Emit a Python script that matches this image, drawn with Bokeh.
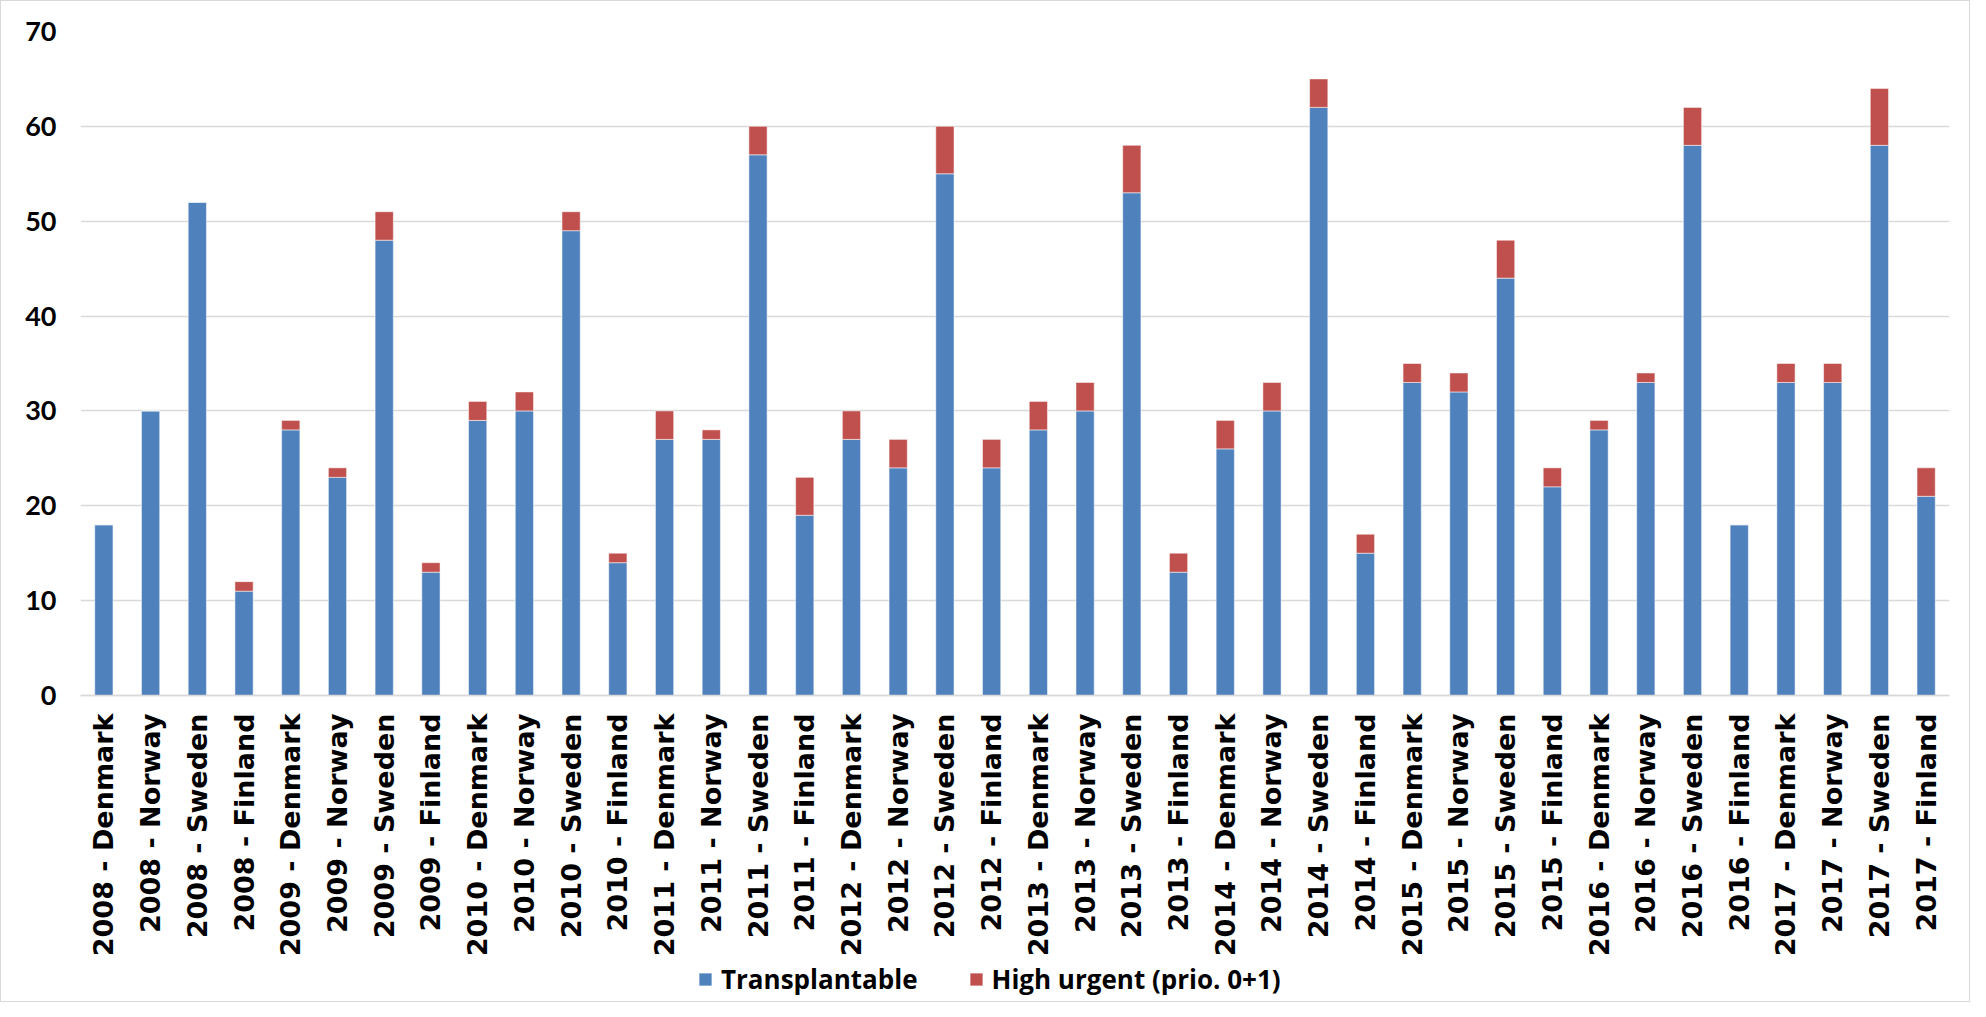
import math
from bokeh.plotting import figure
from bokeh.models import ColumnDataSource, Legend, LegendItem, FixedTicker, Range1d, FactorRange
from bokeh.embed import file_html
from bokeh.resources import INLINE

years = ["2008", "2009", "2010", "2011", "2012", "2013", "2014", "2015", "2016", "2017"]
countries = ["Denmark", "Norway", "Sweden", "Finland"]
categories = [f"{y} - {c}" for y in years for c in countries]

transplantable = [18, 30, 52, 11,
                  28, 23, 48, 13,
                  29, 30, 49, 14,
                  27, 27, 57, 19,
                  27, 24, 55, 24,
                  28, 30, 53, 13,
                  26, 30, 62, 15,
                  33, 32, 44, 22,
                  28, 33, 58, 18,
                  33, 33, 58, 21]
high_urgent = [0, 0, 0, 1,
               1, 1, 3, 1,
               2, 2, 2, 1,
               3, 1, 3, 4,
               3, 3, 5, 3,
               3, 3, 5, 2,
               3, 3, 3, 2,
               2, 2, 4, 2,
               1, 1, 4, 0,
               2, 2, 6, 3]
y_ticks = [0, 10, 20, 30, 40, 50, 60, 70]
series_names = ["Transplantable", "High urgent (prio. 0+1)"]
colors = ["#4F81BD", "#C0504D"]

# layout (screen px inside the figure): value axis 0..70 spans 664 px,
# the frame continues below 0 to hold the category labels and the legend
FRAME_H = 970
AXIS_H = 664
y_max = 70
y_min = -y_max * (FRAME_H - AXIS_H) / AXIS_H

source = ColumnDataSource(dict(cat=categories, tr=transplantable, hu=high_urgent))

p = figure(x_range=FactorRange(*categories, range_padding=0), y_range=Range1d(y_min, y_max),
           frame_width=1869, frame_height=FRAME_H, output_backend="svg", toolbar_location=None,
           min_border_left=79, min_border_right=20, min_border_top=30, min_border_bottom=0)

renderers = p.vbar_stack(["tr", "hu"], x="cat", width=0.39, color=colors, source=source,
                         line_color="white", line_width=1, line_alpha=0.5)

p.outline_line_color = None
p.styles = {"border": "1px solid #D9D9D9"}

p.xgrid.grid_line_color = None
p.ygrid.grid_line_color = "#D9D9D9"
p.ygrid.grid_line_width = 1.5
p.yaxis.ticker = FixedTicker(ticks=y_ticks)

p.yaxis.axis_line_color = None
p.yaxis.major_tick_line_color = None
p.yaxis.minor_tick_line_color = None
p.yaxis.major_tick_out = 0
p.yaxis.major_tick_in = 0
p.yaxis.minor_tick_out = 0
p.yaxis.major_label_text_font = "Lato"
p.yaxis.major_label_text_font_style = "bold"
p.yaxis.major_label_text_font_size = "27px"
p.yaxis.major_label_text_color = "black"
p.yaxis.major_label_standoff = 24

p.xaxis.fixed_location = 0
p.xaxis.axis_line_color = "#D9D9D9"
p.xaxis.axis_line_width = 1.5
p.xaxis.major_tick_line_color = None
p.xaxis.minor_tick_line_color = None
p.xaxis.major_tick_out = 0
p.xaxis.major_tick_in = 0
p.xaxis.minor_tick_out = 0
p.xaxis.major_label_orientation = math.pi / 2
p.xaxis.major_label_text_font = "DejaVu Sans"
p.xaxis.major_label_text_font_style = "bold"
p.xaxis.major_label_text_font_size = "27px"
p.xaxis.major_label_text_color = "black"
p.xaxis.major_label_standoff = 18

legend = Legend(items=[LegendItem(label=series_names[0], renderers=[renderers[0]]),
                       LegendItem(label=series_names[1], renderers=[renderers[1]])],
                orientation="horizontal", location=(617, 4),
                border_line_color=None, background_fill_color=None, background_fill_alpha=0,
                label_text_font="Open Sans", label_text_font_style="bold",
                label_text_font_size="26px", label_text_color="black",
                glyph_width=16, glyph_height=16, label_standoff=8, spacing=50,
                margin=0, padding=0)
p.add_layout(legend, "center")

open("out.html", "w").write(file_html(p, INLINE))
